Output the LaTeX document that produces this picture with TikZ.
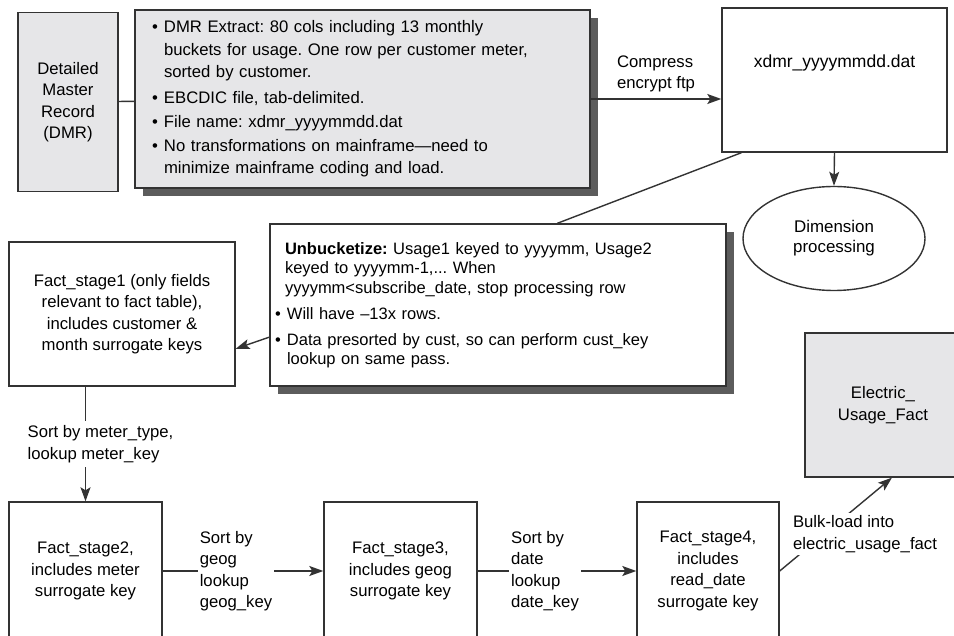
\documentclass[tikz,border=0pt]{standalone}
\usepackage{fontspec}
\setmainfont{Liberation Sans}
\usetikzlibrary{arrows.meta,shadows,shapes.geometric}
\definecolor{boxgrey}{HTML}{E6E6E8}
\definecolor{edgegrey}{HTML}{333333}
\definecolor{shadegrey}{HTML}{5C5C5C}
\newcommand{\bl}{\makebox[12pt][l]{•}}
\newcommand{\ind}{\hspace*{12pt}}
\frenchspacing

\begin{document}
\begin{tikzpicture}[x=1pt,y=-1pt,
	font=\fontsize{16.7}{21.5}\selectfont,
	box/.style={draw=edgegrey, line width=1.4pt, fill=white, inner sep=0pt, align=center},
	greybox/.style={box, fill=boxgrey},
	castshadow/.style={drop shadow={shadow xshift=8pt, shadow yshift=-8pt, fill=shadegrey, opacity=1}},
	lbl/.style={align=left, fill=white, inner xsep=2pt, inner ysep=4pt},
	conn/.style={draw=edgegrey, line width=1.4pt},
	arr/.style={conn, -{Stealth[length=14pt,width=10pt,inset=3pt]}}]
			\useasboundingbox (0,0) rectangle (954,636);
			\clip (0,0) rectangle (954,636);
			\node[greybox, minimum width=100pt, minimum height=179pt] (dmr) at (68,102) {Detailed\\Master\\Record\\(DMR)};
			\node[greybox, castshadow, minimum height=178pt, text width=421pt, inner xsep=17pt, align=left, font=\fontsize{16.7}{22.5}\selectfont] (ext) at (362.5,99) {\bl DMR Extract: 80 cols including 13 monthly\\
				\ind buckets for usage. One row per customer meter,\\
				\ind sorted by customer.\\[3pt]
				\bl EBCDIC file, tab-delimited.\\[1.5pt]
				\bl File name: xdmr\_yyyymmdd.dat\\[1.5pt]
				\bl No transformations on mainframe---need to\\
				\ind minimize mainframe coding and load.};
			\node[box, minimum width=225pt, minimum height=144pt, text height=13pt, text depth=37pt, font=\fontsize{17.5}{21.5}\selectfont] (xdmr) at (834.5,80) {xdmr\_yyyymmdd.dat};
			\node[box, ellipse, minimum width=182pt, minimum height=104pt, font=\fontsize{16.9}{20}\selectfont] (dim) at (834,238.5) {Dimension\\processing};
			\node[box, castshadow, minimum height=162pt, text width=426pt, inner xsep=15pt, align=left, font=\fontsize{16.5}{19.5}\selectfont] (unb) at (498,305) {\textbf{Unbucketize:} Usage1 keyed to yyyymm, Usage2\\
				keyed to yyyymm-1,... When\\
				yyyymm<subscribe\_date, stop processing row\\[6.5pt]
				\hspace*{-10pt}\bl Will have --13x rows.\\[6.5pt]
				\hspace*{-10pt}\bl Data presorted by cust, so can perform cust\_key\\
				\hspace*{2pt}lookup on same pass.};
			\node[box, minimum width=226pt, minimum height=144pt] (fs1) at (122,314) {Fact\_stage1 (only fields\\relevant to fact table),\\includes customer \&\\month surrogate keys};
			\node[box, minimum width=153pt, minimum height=138pt] (fs2) at (85.5,571) {Fact\_stage2,\\includes meter\\surrogate key};
			\node[box, minimum width=153pt, minimum height=138pt] (fs3) at (400.5,571) {Fact\_stage3,\\includes geog\\surrogate key};
			\node[box, minimum width=142pt, minimum height=138pt] (fs4) at (708,571) {Fact\_stage4,\\includes\\read\_date\\surrogate key};
			\node[greybox, minimum width=156pt, minimum height=144pt] (elec) at (883,405) {Electric\_\\Usage\_Fact};
			\draw[conn] (dmr) -- (ext);
			\draw[arr] (ext.east) -- node[above, align=left, inner sep=6pt] {Compress\\encrypt ftp} (ext.east -| xdmr.west);
			\draw[arr] (xdmr.south) -- (dim.north);
			\draw[conn] (xdmr.218) -- (unb.54);
			\draw[arr] (unb.188) -- (fs1.343);
			\draw[arr] (fs1.south -| fs2.north) -- node[lbl, xshift=15pt] {Sort by meter\_type,\\lookup meter\_key} (fs2.north);
			\draw[arr] (fs2) -- node[lbl, xshift=-7pt] {Sort by\\geog\\lookup\\geog\_key} (fs3);
			\draw[arr] (fs3) -- node[lbl, xshift=-12pt] {Sort by\\date\\lookup\\date\_key} (fs4);
			\draw[arr] (fs4.east) -- (elec.277);
			\node[lbl, inner ysep=2pt] (bulk) at (865,534) {Bulk-load into\\electric\_usage\_fact};
		\end{tikzpicture}
\end{document}
